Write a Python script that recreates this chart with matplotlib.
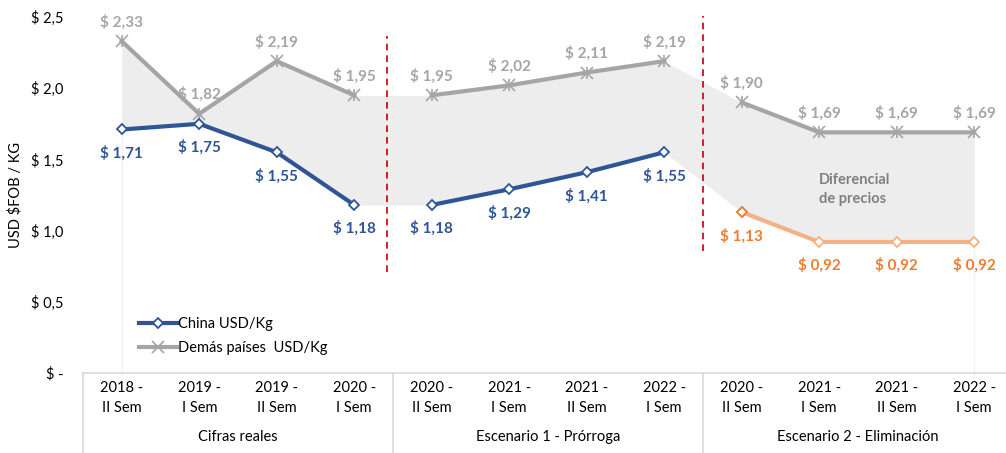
import numpy as np
import matplotlib
matplotlib.use("Agg")
import matplotlib.pyplot as plt
import matplotlib.transforms as mtrans

plt.rcParams["font.family"] = ["Lato", "DejaVu Sans"]

# ── data ────────────────────────────────────────────────────────────────
periods = ["2018 -\nII Sem", "2019 -\nI Sem", "2019 -\nII Sem", "2020 -\nI Sem",
           "2020 -\nII Sem", "2021 -\nI Sem", "2021 -\nII Sem", "2022 -\nI Sem",
           "2020 -\nII Sem", "2021 -\nI Sem", "2021 -\nII Sem", "2022 -\nI Sem"]
groups = ["Cifras reales", "Escenario 1 - Prórroga", "Escenario 2 - Eliminación"]

china_real = [1.71, 1.75, 1.55, 1.18]
china_esc1 = [1.18, 1.29, 1.41, 1.55]
china_esc2 = [1.13, 0.92, 0.92, 0.92]
otros_real = [2.33, 1.82, 2.19, 1.95]
otros_esc1 = [1.95, 2.02, 2.11, 2.19]
otros_esc2 = [1.90, 1.69, 1.69, 1.69]

BLUE = "#2F5597"
GRAY = "#A5A5A5"
ORANGE_L = "#F4B183"
ORANGE = "#ED7D31"


def money(v):
    return f"$ {v:.2f}".replace(".", ",")


fig = plt.figure(figsize=(10.06, 4.53), dpi=100)
W, H = 1006, 453
ax = fig.add_axes([83 / W, (H - 373) / H, (1013 - 83) / W, (373 - 17) / H])

x = np.arange(12)
lower = china_real + china_esc1 + china_esc2
upper = otros_real + otros_esc1 + otros_esc2

# shaded price gap
ax.fill_between(x, lower, upper, color="#EDEDED", lw=0, zorder=1)
ax.plot([0, 0], [0, lower[0]], color="#F0F0F0", lw=0.8, zorder=0.5)
ax.plot([11, 11], [-0.05, lower[11]], color="#F0F0F0", lw=0.8, zorder=0.5, clip_on=False)


def gray_series(xs, ys, label=None):
    ax.plot(xs, ys, color=GRAY, lw=3, zorder=3, label=label,
            marker="x", ms=8, mew=1.2, mfc=GRAY, mec=GRAY)
    ax.plot(xs, ys, ls="none", marker="|", ms=9, mew=1.2, color=GRAY, zorder=4)


# china / demas lines
ax.plot(x[0:4], china_real, color=BLUE, lw=3, marker="D", ms=5.5, mfc="white",
        mec=BLUE, mew=1.3, zorder=5, label="China USD/Kg")
ax.plot(x[4:8], china_esc1, color=BLUE, lw=3, marker="D", ms=5.5, mfc="white",
        mec=BLUE, mew=1.3, zorder=5)
ax.plot(x[8:12], china_esc2, color=ORANGE_L, lw=3, marker="D", ms=5.5, mfc="white",
        mec=ORANGE_L, mew=1.3, zorder=5)
ax.plot(x[8], china_esc2[0], ls="none", marker="D", ms=5.5, mfc="white",
        mec=ORANGE, mew=1.3, zorder=6)
gray_series(x[0:4], otros_real, label="Demás países  USD/Kg")
gray_series(x[4:8], otros_esc1)
gray_series(x[8:12], otros_esc2)

# data labels
for xi, v in zip(x, upper):
    ax.annotate(money(v), (xi, v), xytext=(0, 14), textcoords="offset points",
                ha="center", va="center", fontsize=11, fontweight="bold",
                color=GRAY, zorder=7)
for xi, v in zip(x, lower):
    col = ORANGE if xi >= 8 else BLUE
    ax.annotate(money(v), (xi, v), xytext=(0, -17), textcoords="offset points",
                ha="center", va="center", fontsize=11, fontweight="bold",
                color=col, zorder=7)

ax.text(9.0, 1.29, "Diferencial\nde precios", ha="left", va="center",
        fontsize=10.5, fontweight="bold", color="#808080", linespacing=1.45, zorder=7)

# red dashed separators
ax.plot([3.42, 3.42], [0.71, 2.37], color="#C00000", lw=1.2, ls=(0, (4, 3)),
        zorder=8, clip_on=False)
ax.plot([7.5, 7.5], [0.86, 2.51], color="#C00000", lw=1.2, ls=(0, (4, 3)),
        zorder=8, clip_on=False)

# axes styling
ax.set_xlim(-0.5, 11.5)
ax.set_ylim(0, 2.5)
ax.set_yticks([0, 0.5, 1.0, 1.5, 2.0, 2.5])
ax.set_yticklabels(["$ -", "$ 0,5", "$ 1,0", "$ 1,5", "$ 2,0", "$ 2,5"])
ax.tick_params(axis="y", length=0, pad=14, labelsize=10.5)
ax.set_xticks(x)
ax.set_xticklabels(periods, linespacing=1.55)
ax.tick_params(axis="x", length=0, pad=6, labelsize=10.5)
for s in ["top", "right", "left"]:
    ax.spines[s].set_visible(False)
ax.spines["bottom"].set_color("#D9D9D9")
ax.spines["bottom"].set_linewidth(1.2)
ax.set_ylabel("USD $FOB / KG", fontsize=10.5, labelpad=6)

# multi-level category box
trans = mtrans.blended_transform_factory(ax.transData, ax.transAxes)
ybot = -80 / 356
for xb in [-0.5, 3.5, 7.5, 11.5]:
    ax.plot([xb, xb], [0, ybot], color="#D9D9D9", lw=1.2, transform=trans,
            clip_on=False)
for gi, g in enumerate(groups):
    ax.text(gi * 4 + 1.5, -64 / 356, g, transform=trans, ha="center",
            va="center", fontsize=10.5)

leg = ax.legend(loc="upper left", bbox_to_anchor=(0.060, 0.158), frameon=False,
                fontsize=10.5, handlelength=2.6, handletextpad=0.08,
                labelspacing=0.68, borderaxespad=0, borderpad=0)

fig.savefig("out.png", dpi=100, facecolor="white")
